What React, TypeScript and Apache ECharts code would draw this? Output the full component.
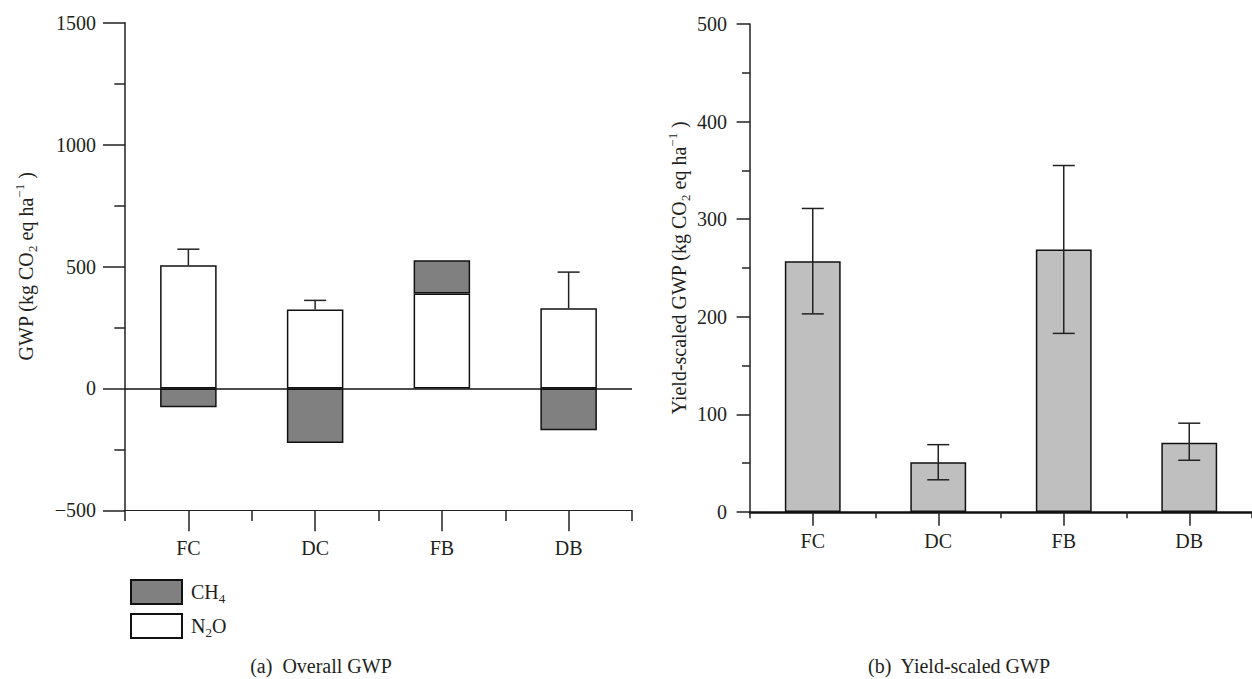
import React, { useEffect, useRef } from "react";
import * as echarts from "echarts";

const categories = ["FC", "DC", "FB", "DB"];
// (a) Overall GWP
const n2oValues = [505, 324, 389, 329];
const ch4Values = [-77, -224, 137, -172];
const overallErrTop = [571, 361, null, 477];
// (b) Yield-scaled GWP
const yieldValues = [257, 51, 269, 71];
const yieldLow = [203, 33, 183, 53];
const yieldHigh = [311, 69, 355, 91];

const FONT = "Liberation Serif";
const INK = "#231f20";

const richTitle = {
  t: { fontSize: 20, fontFamily: FONT, color: INK, lineHeight: 26 },
  s: { fontSize: 13, fontFamily: FONT, color: INK, lineHeight: 14, verticalAlign: "bottom" },
  p: { fontSize: 13, fontFamily: FONT, color: INK, lineHeight: 14, verticalAlign: "top" },
};

function errorRender(lowerCap: boolean) {
  return (params: any, api: any) => {
    const x = api.value(0);
    const lo = api.value(1);
    const hi = api.value(2);
    const pLo = api.coord([x, lo]);
    const pHi = api.coord([x, hi]);
    const hw = 11;
    const style = { stroke: "#222", lineWidth: 1.5 };
    const children: any[] = [
      { type: "line", shape: { x1: pLo[0], y1: pLo[1], x2: pHi[0], y2: pHi[1] }, style },
      { type: "line", shape: { x1: pHi[0] - hw, y1: pHi[1], x2: pHi[0] + hw, y2: pHi[1] }, style },
    ];
    if (lowerCap) {
      children.push({ type: "line", shape: { x1: pLo[0] - hw, y1: pLo[1], x2: pLo[0] + hw, y2: pLo[1] }, style });
    }
    return { type: "group", children };
  };
}

const minusFmt = (v: number) => (v < 0 ? "\u2212" + Math.abs(v) : String(v));

export default function App() {
  const ref = useRef<HTMLDivElement>(null);
  useEffect(() => {
    if (!ref.current) return;
    const chart = echarts.init(ref.current, null, { renderer: "svg" });

    const overallErrData = categories
      .map((c, i) => (overallErrTop[i] == null ? null : [i, n2oValues[i], overallErrTop[i]]))
      .filter((d) => d !== null);
    const yieldErrData = categories.map((c, i) => [i, yieldLow[i], yieldHigh[i]]);

    const option: any = {
      animation: false,
      backgroundColor: "#ffffff",
      textStyle: { fontFamily: FONT, color: INK },
      grid: [
        { left: 125, right: 620, top: 22.7, bottom: 168.7 },
        { left: 750, right: -4.7, top: 24, bottom: 167 },
      ],
      legend: {
        orient: "vertical",
        left: 125,
        top: 574,
        itemWidth: 51,
        itemHeight: 24,
        itemGap: 8,
        icon: "rect",
        data: ["CH4", "N2O"],
        formatter: (name: string) =>
          name === "CH4" ? "{b|CH}{s|4}" : "{b|N}{s|2}{a|O}",
        textStyle: {
          fontFamily: FONT,
          color: INK,
          fontSize: 20,
          rich: {
            a: { fontSize: 20, fontFamily: FONT, color: INK, lineHeight: 26 },
            b: { fontSize: 20, fontFamily: FONT, color: INK, lineHeight: 26, padding: [0, 0, 0, 4] },
            s: { fontSize: 13, fontFamily: FONT, color: INK, lineHeight: 14, verticalAlign: "bottom" },
          },
        },
      },
      xAxis: [
        {
          type: "category",
          gridIndex: 0,
          data: categories,
          position: "bottom",
          axisLine: { show: true, onZero: false, lineStyle: { color: "#222", width: 1.2 } },
          axisTick: { show: true, alignWithLabel: true, length: 21, lineStyle: { color: "#222", width: 1.5 } },
          axisLabel: { fontFamily: FONT, fontSize: 20, color: INK, margin: 28 },
        },
        {
          type: "category",
          gridIndex: 0,
          data: categories,
          position: "bottom",
          axisLine: { show: false, onZero: false },
          axisTick: { show: true, alignWithLabel: false, length: 10.7, lineStyle: { color: "#222", width: 1.5 } },
          axisLabel: { show: false },
        },
        {
          type: "category",
          gridIndex: 1,
          data: categories,
          position: "bottom",
          axisLine: { show: true, onZero: false, lineStyle: { color: "#111", width: 2.5 } },
          axisTick: { show: true, alignWithLabel: true, length: 13.7, lineStyle: { color: "#222", width: 1.5 } },
          axisLabel: { fontFamily: FONT, fontSize: 20, color: INK, margin: 19 },
        },
        {
          type: "category",
          gridIndex: 1,
          data: categories,
          position: "bottom",
          axisLine: { show: false, onZero: false },
          axisTick: { show: true, alignWithLabel: false, length: 6.3, lineStyle: { color: "#222", width: 1.5 } },
          axisLabel: { show: false },
        },
      ],
      yAxis: [
        {
          type: "value",
          gridIndex: 0,
          min: -500,
          max: 1500,
          interval: 500,
          name: "{t|GWP (kg CO}{s|2}{t| eq ha}{p|\u22121}{t| )}",
          nameLocation: "middle",
          nameRotate: 90,
          nameGap: 86,
          nameTextStyle: { fontFamily: FONT, fontSize: 20, color: INK, rich: richTitle },
          axisLine: { show: true, lineStyle: { color: "#222", width: 1.5 } },
          axisTick: { show: true, length: 22, lineStyle: { color: "#222", width: 1.5 } },
          minorTick: { show: true, splitNumber: 2, length: 10.7, lineStyle: { color: "#222", width: 1.5 } },
          splitLine: { show: false },
          axisLabel: { fontFamily: FONT, fontSize: 20, color: INK, margin: 29, formatter: minusFmt },
        },
        {
          type: "value",
          gridIndex: 1,
          min: 0,
          max: 500,
          interval: 100,
          name: "{t|Yield-scaled GWP (kg CO}{s|2}{t| eq ha}{p|\u22121}{t| )}",
          nameLocation: "middle",
          nameRotate: 90,
          nameGap: 58,
          nameTextStyle: { fontFamily: FONT, fontSize: 20, color: INK, rich: richTitle },
          axisLine: { show: true, lineStyle: { color: "#222", width: 1.5 } },
          axisTick: { show: true, length: 13.4, lineStyle: { color: "#222", width: 1.5 } },
          minorTick: { show: true, splitNumber: 2, length: 8, lineStyle: { color: "#222", width: 1.5 } },
          splitLine: { show: false },
          axisLabel: { fontFamily: FONT, fontSize: 20, color: INK, margin: 23 },
        },
      ],
      series: [
        {
          name: "N2O",
          type: "bar",
          xAxisIndex: 0,
          yAxisIndex: 0,
          stack: "gwp",
          barWidth: "44.6%",
          data: n2oValues,
          itemStyle: { color: "#ffffff", borderColor: "#111", borderWidth: 1.5 },
          markLine: {
            silent: true,
            symbol: "none",
            label: { show: false },
            lineStyle: { color: "#111", width: 1.5, type: "solid" },
            data: [{ yAxis: 0 }],
          },
          z: 2,
        },
        {
          name: "CH4",
          type: "bar",
          xAxisIndex: 0,
          yAxisIndex: 0,
          stack: "gwp",
          barWidth: "44.6%",
          data: ch4Values,
          itemStyle: { color: "#808080", borderColor: "#111", borderWidth: 1.5 },
          z: 2,
        },
        {
          name: "Overall error",
          type: "custom",
          xAxisIndex: 0,
          yAxisIndex: 0,
          data: overallErrData,
          encode: { x: 0, y: [1, 2] },
          renderItem: errorRender(false),
          z: 5,
        },
        {
          name: "Yield-scaled GWP",
          type: "bar",
          xAxisIndex: 2,
          yAxisIndex: 1,
          barWidth: "44.5%",
          data: yieldValues,
          itemStyle: { color: "#bfbfbf", borderColor: "#111", borderWidth: 1.5 },
          z: 2,
        },
        {
          name: "Yield error",
          type: "custom",
          xAxisIndex: 2,
          yAxisIndex: 1,
          data: yieldErrData,
          encode: { x: 0, y: [1, 2] },
          renderItem: errorRender(true),
          z: 5,
        },
      ],
      graphic: [
        {
          type: "text",
          x: 321,
          y: 666,
          style: {
            text: "(a)  Overall GWP",
            fontFamily: FONT,
            fontSize: 20,
            fill: INK,
            align: "center",
            verticalAlign: "middle",
          },
        },
        {
          type: "text",
          x: 959,
          y: 666,
          style: {
            text: "(b)  Yield-scaled GWP",
            fontFamily: FONT,
            fontSize: 20,
            fill: INK,
            align: "center",
            verticalAlign: "middle",
          },
        },
      ],
    };

    chart.setOption(option);
    return () => chart.dispose();
  }, []);

  return (
    <div
      ref={ref}
      style={{ position: "fixed", left: 0, top: 0, width: 1252, height: 679, background: "#fff" }}
    />
  );
}
